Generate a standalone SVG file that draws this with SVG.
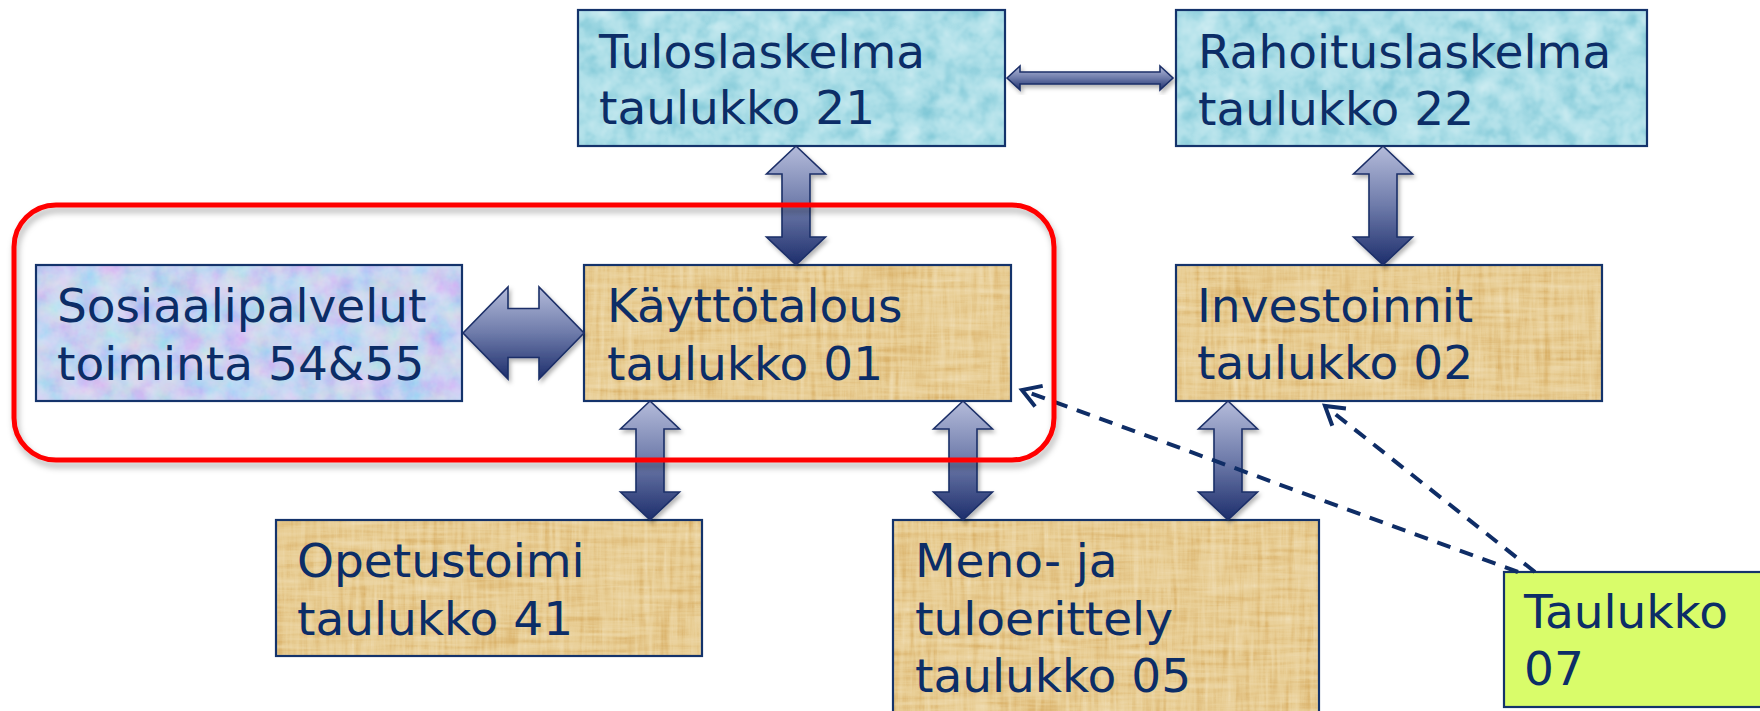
<svg xmlns="http://www.w3.org/2000/svg" xmlns:xlink="http://www.w3.org/1999/xlink" width="1760" height="711" viewBox="0 0 1760 711">
<defs>
<style>
.t{font-family:"DejaVu Sans",Verdana,sans-serif;font-size:47px;fill:#0C2D67}
.bx{fill:none;stroke:#14336B;stroke-width:2.2}
.arr{fill:url(#ag);stroke:#1B2F68;stroke-width:1.6;filter:url(#ash)}
.dash{fill:none;stroke:#0F2D66;stroke-width:4;stroke-dasharray:14 10;marker-end:url(#chev)}
.water{fill:#AEDFE8;filter:url(#fxWater)}
.papy{fill:#E8CD94;filter:url(#fxPapy)}
.marb{fill:#C8D4F1;filter:url(#fxMarb)}
</style>
<linearGradient id="ag" x1="0" y1="0" x2="0" y2="1">
<stop offset="0" stop-color="#B4BBDA"/>
<stop offset="0.5" stop-color="#6E7BAA"/>
<stop offset="1" stop-color="#1D2E6C"/>
</linearGradient>
<filter id="ash" x="-30%" y="-10%" width="160%" height="130%">
<feDropShadow dx="2" dy="3" stdDeviation="2" flood-color="#000" flood-opacity="0.3"/>
</filter>
<filter id="rsh" x="-5%" y="-10%" width="110%" height="125%">
<feDropShadow dx="2" dy="5" stdDeviation="3" flood-color="#000" flood-opacity="0.3"/>
</filter>
<filter id="fxWater" x="0" y="0" width="1" height="1" color-interpolation-filters="sRGB">
<feTurbulence type="fractalNoise" baseFrequency="0.05" numOctaves="3" seed="11" result="n"/>
<feColorMatrix in="n" type="matrix" values="0.33 0.33 0.33 0 0 0.33 0.33 0.33 0 0 0.33 0.33 0.33 0 0 0 0 0 0 1" result="g"/>
<feComponentTransfer in="g" result="gc">
<feFuncR type="linear" slope="1.7" intercept="-0.35"/>
<feFuncG type="linear" slope="1.7" intercept="-0.35"/>
<feFuncB type="linear" slope="1.7" intercept="-0.35"/>
</feComponentTransfer>
<feBlend in="gc" in2="SourceGraphic" mode="soft-light" result="b"/>
<feComposite in="b" in2="SourceGraphic" operator="in"/>
</filter>
<filter id="fxPapy" x="0" y="0" width="1" height="1" color-interpolation-filters="sRGB">
<feTurbulence type="fractalNoise" baseFrequency="0.015 0.18" numOctaves="3" seed="3" result="n1"/>
<feTurbulence type="fractalNoise" baseFrequency="0.18 0.015" numOctaves="3" seed="8" result="n2"/>
<feComposite in="n1" in2="n2" operator="arithmetic" k2="0.5" k3="0.5" result="n"/>
<feColorMatrix in="n" type="matrix" values="0.33 0.33 0.33 0 0 0.33 0.33 0.33 0 0 0.33 0.33 0.33 0 0 0 0 0 0 1" result="g"/>
<feComponentTransfer in="g" result="gc">
<feFuncR type="linear" slope="1.9" intercept="-0.45"/>
<feFuncG type="linear" slope="1.9" intercept="-0.45"/>
<feFuncB type="linear" slope="1.9" intercept="-0.45"/>
</feComponentTransfer>
<feBlend in="gc" in2="SourceGraphic" mode="soft-light" result="b"/>
<feComposite in="b" in2="SourceGraphic" operator="in"/>
</filter>
<filter id="fxMarb" x="0" y="0" width="1" height="1" color-interpolation-filters="sRGB">
<feTurbulence type="fractalNoise" baseFrequency="0.04" numOctaves="4" seed="5" result="n"/>
<feColorMatrix in="n" type="matrix" values="1 0 0 0 0 0 1 0 0 0 0 0 1 0 0 0 0 0 0 1" result="g"/>
<feComponentTransfer in="g" result="gc">
<feFuncR type="linear" slope="1.2" intercept="-0.1"/>
<feFuncG type="linear" slope="1.2" intercept="-0.1"/>
<feFuncB type="linear" slope="1.2" intercept="-0.1"/>
</feComponentTransfer>
<feBlend in="gc" in2="SourceGraphic" mode="soft-light" result="b"/>
<feComposite in="b" in2="SourceGraphic" operator="in"/>
</filter>
<marker id="chev" viewBox="-26 -16 32 32" refX="0" refY="0" markerWidth="32" markerHeight="32" markerUnits="userSpaceOnUse" orient="auto" overflow="visible">
<path d="M-18,-11 L0,0 L-18,11" fill="none" stroke="#0F2D66" stroke-width="4" stroke-dasharray="none"/>
</marker>
<path id="vdbl" d="M0,0 L29.5,28 L14,28 L14,91 L29.5,91 L0,119 L-29.5,91 L-14,91 L-14,28 L-29.5,28 Z"/>
</defs>

<rect x="0" y="0" width="1760" height="711" fill="#FFFFFF"/>

<g id="node-tuloslaskelma">
<rect class="water" x="578" y="10" width="427" height="136"/>
<rect class="bx" x="578" y="10" width="427" height="136"/>
<text class="t" x="599" y="68">Tuloslaskelma</text>
<text class="t" x="599" y="124">taulukko 21</text>
</g>

<g id="node-rahoituslaskelma">
<rect class="water" x="1176" y="10" width="471" height="136"/>
<rect class="bx" x="1176" y="10" width="471" height="136"/>
<text class="t" x="1198" y="68">Rahoituslaskelma</text>
<text class="t" x="1198" y="125">taulukko 22</text>
</g>

<g id="node-sosiaalipalvelut">
<rect class="marb" x="36" y="265" width="426" height="136"/>
<rect class="bx" x="36" y="265" width="426" height="136"/>
<text class="t" x="57" y="322">Sosiaalipalvelut</text>
<text class="t" x="57" y="380">toiminta 54&amp;55</text>
</g>

<g id="node-kayttotalous">
<rect class="papy" x="584" y="265" width="427" height="136"/>
<rect class="bx" x="584" y="265" width="427" height="136"/>
<text class="t" x="607" y="322">Käyttötalous</text>
<text class="t" x="607" y="380">taulukko 01</text>
</g>

<g id="node-investoinnit">
<rect class="papy" x="1176" y="265" width="426" height="136"/>
<rect class="bx" x="1176" y="265" width="426" height="136"/>
<text class="t" x="1197" y="322">Investoinnit</text>
<text class="t" x="1197" y="379">taulukko 02</text>
</g>

<g id="node-opetustoimi">
<rect class="papy" x="276" y="520" width="426" height="136"/>
<rect class="bx" x="276" y="520" width="426" height="136"/>
<text class="t" x="297" y="577">Opetustoimi</text>
<text class="t" x="297" y="635">taulukko 41</text>
</g>

<g id="node-meno">
<rect class="papy" x="893" y="520" width="426" height="210"/>
<rect class="bx" x="893" y="520" width="426" height="210"/>
<text class="t" x="915" y="577">Meno- ja</text>
<text class="t" x="915" y="635">tuloerittely</text>
<text class="t" x="915" y="692">taulukko 05</text>
</g>

<g id="node-taulukko07">
<rect x="1504" y="572" width="280" height="135" fill="#D9FC6A" stroke="#14336B" stroke-width="2.2"/>
<text class="t" x="1524" y="628">Taulukko</text>
<text class="t" x="1524" y="685">07</text>
</g>

<g id="connectors">
<path class="arr" d="M1007,78 L1020,66 L1020,72 L1160,72 L1160,66 L1173,78 L1160,90 L1160,84 L1020,84 L1020,90 Z"/>
<use class="arr" xlink:href="#vdbl" href="#vdbl" x="796" y="146"/>
<use class="arr" xlink:href="#vdbl" href="#vdbl" x="1383" y="146"/>
<path class="arr" d="M463,333 L508,287 L508,308.5 L539,308.5 L539,287 L584,333 L539,379 L539,357.5 L508,357.5 L508,379 Z"/>
<use class="arr" xlink:href="#vdbl" href="#vdbl" x="650" y="401"/>
<use class="arr" xlink:href="#vdbl" href="#vdbl" x="963" y="401"/>
<use class="arr" xlink:href="#vdbl" href="#vdbl" x="1228" y="401"/>
<path class="dash" d="M1518,572 L1022,390"/>
<path class="dash" d="M1535,572 L1325,406"/>
</g>

<g id="highlight">
<rect x="14" y="205" width="1040" height="255" rx="42" ry="42" fill="none" stroke="#FF0000" stroke-width="5" filter="url(#rsh)"/>
</g>
</svg>
